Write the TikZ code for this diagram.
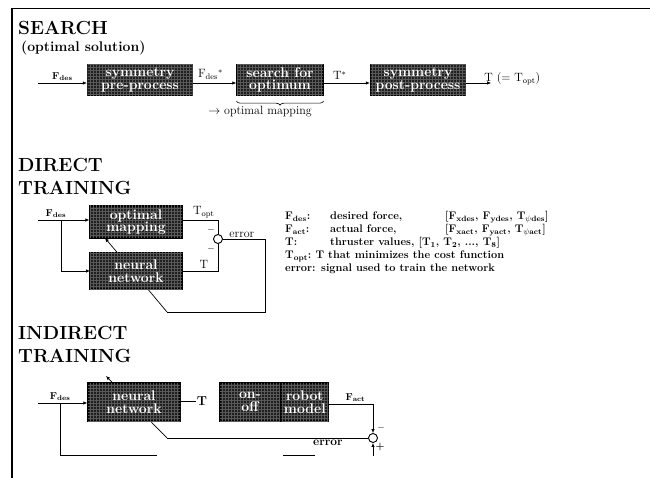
\documentclass[tikz,border=0pt]{standalone}
\usetikzlibrary{positioning,arrows.meta,patterns,decorations.pathreplacing,calc}
\tikzset{
  blk/.style  ={draw=black,line width=1.3pt,fill=black!88,
                postaction={pattern=grid,pattern color=white!35!black},
                text=white,align=center,inner sep=1pt,minimum height=31pt,
                font=\fontsize{14}{12.5}\selectfont\bfseries},
  ttl/.style  ={anchor=west,font=\fontsize{19}{20}\selectfont\bfseries,inner sep=0pt},
  lbl/.style  ={font=\fontsize{10}{10}\selectfont\bfseries,inner sep=1pt},
  sig/.style  ={font=\fontsize{12}{12}\selectfont,inner sep=1pt},
  lgd/.style  ={anchor=north west,align=left,inner sep=0pt,
                font=\fontsize{11}{13}\selectfont\bfseries},
  sumj/.style ={circle,draw,line width=0.9pt,minimum size=9pt,inner sep=0pt},
  arr/.style  ={-{Latex[length=4pt,width=3.5pt]},line width=0.7pt},
  ln/.style   ={line width=0.7pt},
}
\begin{document}
\begin{tikzpicture}[x=1pt,y=-1pt]
  \useasboundingbox (0,0) rectangle (650,478);
  \draw[line width=1.8pt] (12,478) -- (12,8);
  \draw[line width=0.8pt] (11,8) -- (650,8);

  % search
  \node[ttl] (srch) at (18,28) {SEARCH};
  \node[anchor=west,inner sep=0pt,font=\fontsize{14}{14}\selectfont\bfseries] (sol) at (21,48) {(optimal solution)};
  \node[blk,minimum width=105pt] (pre) at (140,80) {symmetry\\pre-process};
  \node[blk,minimum width=86pt] (opt) at (280,80) {search for\\optimum};
  \node[blk,minimum width=95pt] (post) at (418,80) {symmetry\\post-process};
  \coordinate (in1) at (38,83);
  \draw[arr] (in1) -- node[lbl,above=1pt]{F\textsubscript{des}} (in1 -| pre.west);
  \draw[arr] (pre.east |- in1) -- node[sig,above=2pt,pos=0.4]{F\textsubscript{des}$^*$} (opt.west |- in1);
  \draw[arr] (opt.east |- in1) -- node[sig,above=2pt,pos=0.35]{T$^*$} (post.west |- in1);
  \draw[arr] (post.east |- in1) -- ++(25,0) coordinate (out1);
  \node[sig,anchor=south west] (tout) at ([xshift=-8pt,yshift=-3pt]out1) {T (= T\textsubscript{opt})};
  \draw[decorate,decoration={brace,mirror,amplitude=4pt},line width=0.6pt]
    ([yshift=-5pt]opt.south west) -- ([yshift=-5pt]opt.south east);
  \node[sig] (omap) at (260,112) {$\rightarrow$ optimal mapping};

  % direct training
  \node[ttl] (dir) at (18,165) {DIRECT};
  \node[ttl] (dtr) at (18,188) {TRAINING};
  \node[blk,minimum width=92pt,minimum height=32pt] (map) at (136,222) {optimal\\mapping};
  \node[sumj] (s1) at (218,239) {};
  \coordinate (in2) at (38,220);
  \coordinate (nnw) at (90,271);
  \draw[arr] (in2) -- node[lbl,above=1pt,pos=0.35]{F\textsubscript{des}} (in2 -| map.west);
  \draw[arr] (61,220) |- (nnw);
  \draw[ln] (map.east |- in2) -| node[sig,above=1pt,pos=0.3]{T\textsubscript{opt}} (s1.north);
  \node[lbl] at (211,230) {$-$};
  \node[lbl] at (211,249) {$-$};
  \draw[ln] (s1.east) -- node[sig,above=0pt,pos=0.45]{error} (265,239) |- (167,312) coordinate (fb1);
  \draw[arr] (fb1) -- (105,238);
  \node[blk,minimum width=92pt,minimum height=36pt] (nn1) at (136,271) {neural\\network};
  \draw[ln] (nn1.east) -| node[sig,above=1pt,pos=0.3]{T} (s1.south);

  % legend
  \node[lgd] (legend) at (285,211) {%
    \makebox[45pt][l]{F\textsubscript{des}:}\makebox[115pt][l]{desired force,}[F\textsubscript{xdes}, F\textsubscript{ydes}, T\textsubscript{$\psi$des}]\\
    \makebox[45pt][l]{F\textsubscript{act}:}\makebox[115pt][l]{actual force,}[F\textsubscript{xact}, F\textsubscript{yact}, T\textsubscript{$\psi$act}]\\
    \makebox[45pt][l]{T:}thruster values, [T\textsubscript{1}, T\textsubscript{2}, ..., T\textsubscript{8}]\\
    T\textsubscript{opt}:\ T that minimizes the cost function\\
    error: signal used to train the network};

  % indirect training
  \node[ttl] (ind) at (18,333) {INDIRECT};
  \node[ttl] (itr) at (18,356) {TRAINING};
  \node[sumj] (s2) at (373,438) {};
  \coordinate (in3) at (38,403);
  \draw[ln] (s2.west) -- node[sig,below=1pt,pos=0.2,font=\fontsize{12}{12}\selectfont\bfseries]{error} (167,438) coordinate (fb2);
  \draw[arr] (fb2) -- (106,376);
  \node[blk,minimum width=92pt,minimum height=38pt] (nn2) at (134,402) {neural\\network};
  \node[blk,minimum width=60pt,minimum height=38pt] (onoff) at (250,402) {on-\\off};
  \node[blk,minimum width=47pt,minimum height=38pt,right=0pt of onoff] (robot) {robot\\model};
  \draw[arr] (in3) -- node[lbl,above=1pt,pos=0.45]{F\textsubscript{des}} (in3 -| nn2.west);
  \node[sig,font=\fontsize{13}{13}\selectfont\bfseries] (tlab) at (202,401) {T};
  \draw[ln] (nn2.east |- tlab) -- (tlab.west);
  \draw[arr] (robot.east |- 0,404) -| node[lbl,above=1pt,pos=0.3]{F\textsubscript{act}} (s2.north);
  \node[lbl] at (381,428) {$-$};
  \draw[arr] (373,456) coordinate (bt) -- (s2.south);
  \node[lbl] at (380,447) {+};
  \draw[ln] (60,403) |- (157,455);
  \draw[ln] (283,455) -- (315,455);
\end{tikzpicture}
\end{document}
